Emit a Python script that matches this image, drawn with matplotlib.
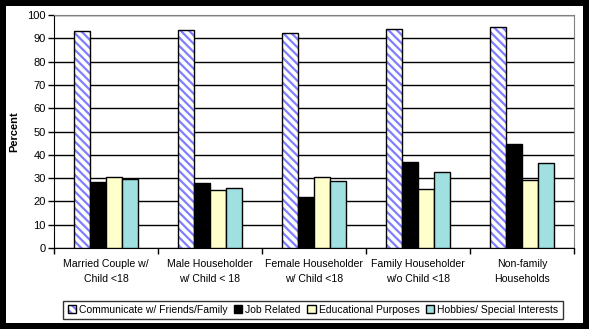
import matplotlib
matplotlib.use("Agg")
import matplotlib.pyplot as plt
import numpy as np
from matplotlib.patches import Rectangle

categories = ["Married Couple w/\nChild <18", "Male Householder\nw/ Child < 18",
              "Female Householder\nw/ Child <18", "Family Householder\nw/o Child <18",
              "Non-family\nHouseholds"]
series_names = ["Communicate w/ Friends/Family", "Job Related",
                "Educational Purposes", "Hobbies/ Special Interests"]
communicate = [93.1, 93.4, 92.1, 93.8, 94.7]
job_related = [28.3, 27.9, 21.9, 36.9, 44.6]
educational = [30.3, 24.8, 30.3, 25.2, 29.0]
hobbies = [29.7, 25.6, 28.6, 32.5, 36.5]
yticks = list(range(0, 101, 10))

plt.rcParams['font.family'] = ['Liberation Sans', 'DejaVu Sans']
plt.rcParams['hatch.linewidth'] = 1.6

HATCH_BLUE = '#7F7FFF'

fig = plt.figure(figsize=(5.89, 3.29), dpi=100)
fig.patch.set_facecolor('black')
fig.add_artist(Rectangle((6/589, 6/329), (583-6)/589, (323-6)/329,
                         transform=fig.transFigure, facecolor='white',
                         edgecolor='none', zorder=0))

ax = fig.add_axes([54/589, 1-248/329, (574-54)/589, (248-15)/329])
ax.set_facecolor('white')

x = np.arange(len(categories))
w = 0.154
data = [communicate, job_related, educational, hobbies]
faces = ['white', 'black', '#FFFFCC', '#A0E0E0']
handles = []
for i, (vals, fc) in enumerate(zip(data, faces)):
    pos = x + (i - 1.5) * w
    if i == 0:
        ax.bar(pos, vals, w, facecolor='white', edgecolor=HATCH_BLUE,
               linewidth=0, hatch='\\\\\\\\', zorder=3)
        ax.bar(pos, vals, w, facecolor='none', edgecolor='black',
               linewidth=1.0, zorder=4)
        hp = Rectangle((0, 0), 1, 1, facecolor='white', edgecolor=HATCH_BLUE,
                       linewidth=0, hatch='\\\\\\\\')
        op = Rectangle((0, 0), 1, 1, facecolor='none', edgecolor='black',
                       linewidth=1.0)
        handles.append((hp, op))
    else:
        b = ax.bar(pos, vals, w, facecolor=fc, edgecolor='black',
                   linewidth=1.0, zorder=3)
        handles.append(b)

ax.set_xlim(-0.5, len(categories) - 0.5)
ax.set_ylim(0, 100)
ax.set_yticks(yticks)
ax.yaxis.grid(True, color='black', linewidth=1.0, zorder=1)
ax.set_axisbelow(True)
ax.tick_params(axis='y', labelsize=8, length=4, direction='out', width=1, pad=2)
ax.set_xticks(np.arange(-0.5, len(categories), 1.0))
ax.set_xticklabels([])
ax.set_xticks(x, minor=True)
ax.set_xticklabels(categories, minor=True, fontsize=7.6, linespacing=1.6)
ax.tick_params(axis='x', which='major', length=4, width=1, direction='out')
ax.tick_params(axis='x', which='minor', length=0, pad=8)
for s in ['top', 'right']:
    ax.spines[s].set_color('#808080')
for s in ['left', 'bottom']:
    ax.spines[s].set_color('black')
ax.set_ylabel('Percent', fontsize=8, fontweight='bold', labelpad=6)

leg = fig.legend(handles=handles, labels=series_names, loc='center',
                 bbox_to_anchor=((63+563)/2/589, 1-310/329), ncol=4,
                 fontsize=7.5, frameon=True, fancybox=False, edgecolor='black',
                 handlelength=0.8, handleheight=0.8, handletextpad=0.3,
                 columnspacing=0.6, borderpad=0.4, borderaxespad=0)
leg.get_frame().set_linewidth(1.0)

fig.savefig('out.png', dpi=100, facecolor='black')
